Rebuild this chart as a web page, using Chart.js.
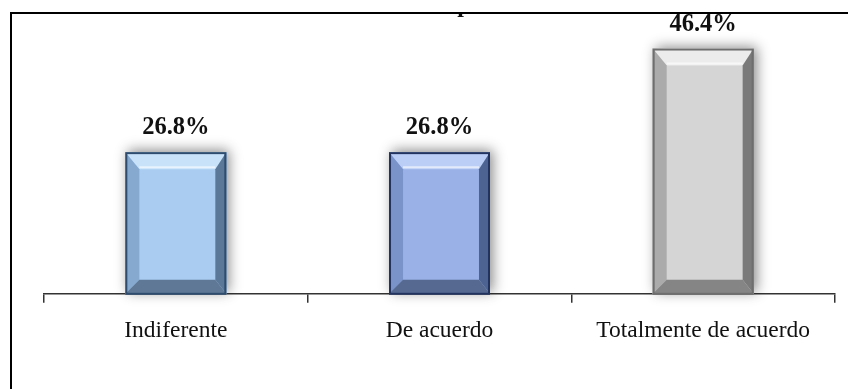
<!DOCTYPE html>
<html><head><meta charset="utf-8">
<script src="https://cdn.jsdelivr.net/npm/chart.js@4/dist/chart.umd.min.js"></script>
<style>
html,body{margin:0;padding:0;background:#fff;}
#wrap{position:relative;width:848px;height:389px;overflow:hidden;}
#frame{position:absolute;left:10px;top:12px;width:850px;height:400px;border-left:2px solid #000;border-top:2px solid #000;pointer-events:none;}
canvas{position:absolute;left:0;top:0;}
</style></head>
<body><div id="wrap"><canvas id="c" width="848" height="389"></canvas><div id="frame"></div></div>
<script>
const categories = ["Indiferente", "De acuerdo", "Totalmente de acuerdo"];
const values = [26.8, 26.8, 46.4];
const valueLabels = ["26.8%", "26.8%", "46.4%"];

const faceColors = ["#A9CCF0", "#99B1E6", "#D5D5D5"];
const bevelTop = ["#C8E2FA", "#BACEF6", "#ECECEC"];
const bevelLeft = ["#85A9CF", "#7A93C8", "#ABABAB"];
const bevelRight = ["#5B7898", "#4D6492", "#7A7A7A"];
const bevelBottom = ["#5F7896", "#566A91", "#858585"];
const borderColors = ["#2D4C6E", "#22335F", "#6E6E6E"];

const bevelPlugin = {
  id: 'bevel',
  beforeDatasetsDraw(chart) {
    const ctx = chart.ctx;
    const meta = chart.getDatasetMeta(0);
    meta.data.forEach((bar) => {
      const l = bar.x - bar.width / 2, r = bar.x + bar.width / 2, t = bar.y, b = bar.base;
      ctx.save();
      ctx.shadowColor = 'rgba(0,0,0,0.45)';
      ctx.shadowBlur = 12;
      ctx.shadowOffsetX = 3;
      ctx.shadowOffsetY = -2;
      ctx.fillStyle = '#888';
      ctx.fillRect(l, t, r - l, b - t);
      ctx.restore();
    });
  },
  afterDatasetsDraw(chart) {
    const ctx = chart.ctx;
    const meta = chart.getDatasetMeta(0);
    meta.data.forEach((bar, i) => {
      const l = bar.x - bar.width / 2, r = bar.x + bar.width / 2, t = bar.y, b = bar.base;
      const bl = 14, br = 11, bt = 17, bb = 14;
      ctx.save();
      ctx.fillStyle = faceColors[i];
      ctx.fillRect(l, t, r - l, b - t);
      const poly = (pts, c) => { ctx.beginPath(); ctx.moveTo(pts[0][0], pts[0][1]); for (let k = 1; k < pts.length; k++) ctx.lineTo(pts[k][0], pts[k][1]); ctx.closePath(); ctx.fillStyle = c; ctx.fill(); };
      poly([[l, t], [r, t], [r - br, t + bt], [l + bl, t + bt]], bevelTop[i]);
      poly([[l, t], [l + bl, t + bt], [l + bl, b - bb], [l, b]], bevelLeft[i]);
      poly([[r, t], [r, b], [r - br, b - bb], [r - br, t + bt]], bevelRight[i]);
      poly([[l, b], [l + bl, b - bb], [r - br, b - bb], [r, b]], bevelBottom[i]);
      ctx.strokeStyle = 'rgba(255,255,255,0.6)';
      ctx.lineWidth = 2;
      ctx.beginPath(); ctx.moveTo(l + bl, t + bt - 2); ctx.lineTo(r - br, t + bt - 2); ctx.stroke();
      ctx.strokeStyle = borderColors[i];
      ctx.lineWidth = 2;
      ctx.strokeRect(l + 1, t + 1, r - l - 2, b - t - 1);
      ctx.fillStyle = '#111';
      ctx.font = 'bold 24.5px "Liberation Serif", "Times New Roman", serif';
      ctx.textAlign = 'center';
      ctx.textBaseline = 'alphabetic';
      ctx.fillText(valueLabels[i], bar.x, t - 18);
      ctx.restore();
    });
    ctx.save();
    ctx.beginPath(); ctx.rect(0, 14, chart.width, 20); ctx.clip();
    ctx.fillStyle = '#111';
    ctx.font = 'bold 24px "Liberation Serif", serif';
    ctx.textAlign = 'center';
    ctx.fillText('p', 464, 12);
    ctx.restore();
  }
};

new Chart(document.getElementById('c'), {
  type: 'bar',
  data: {
    labels: categories,
    datasets: [{
      data: values,
      backgroundColor: faceColors,
      borderWidth: 0,
      categoryPercentage: 1,
      barPercentage: 0.383
    }]
  },
  options: {
    responsive: false,
    animation: false,
    devicePixelRatio: 1,
    layout: { padding: { left: 44, right: 13, top: 29.5, bottom: 30 } },
    plugins: { legend: { display: false }, tooltip: { enabled: false }, title: { display: false } },
    scales: {
      x: {
        offset: true,
        grid: { offset: true, drawOnChartArea: false, drawTicks: true, tickLength: 9, color: '#333', lineWidth: 1.5 },
        border: { display: true, color: '#333', width: 1.5 },
        ticks: { color: '#111', padding: 14, font: { family: '"Liberation Serif", "Times New Roman", serif', size: 23.5 } }
      },
      y: { display: false, min: 0, max: 50 }
    }
  },
  plugins: [bevelPlugin]
});
</script></body></html>
